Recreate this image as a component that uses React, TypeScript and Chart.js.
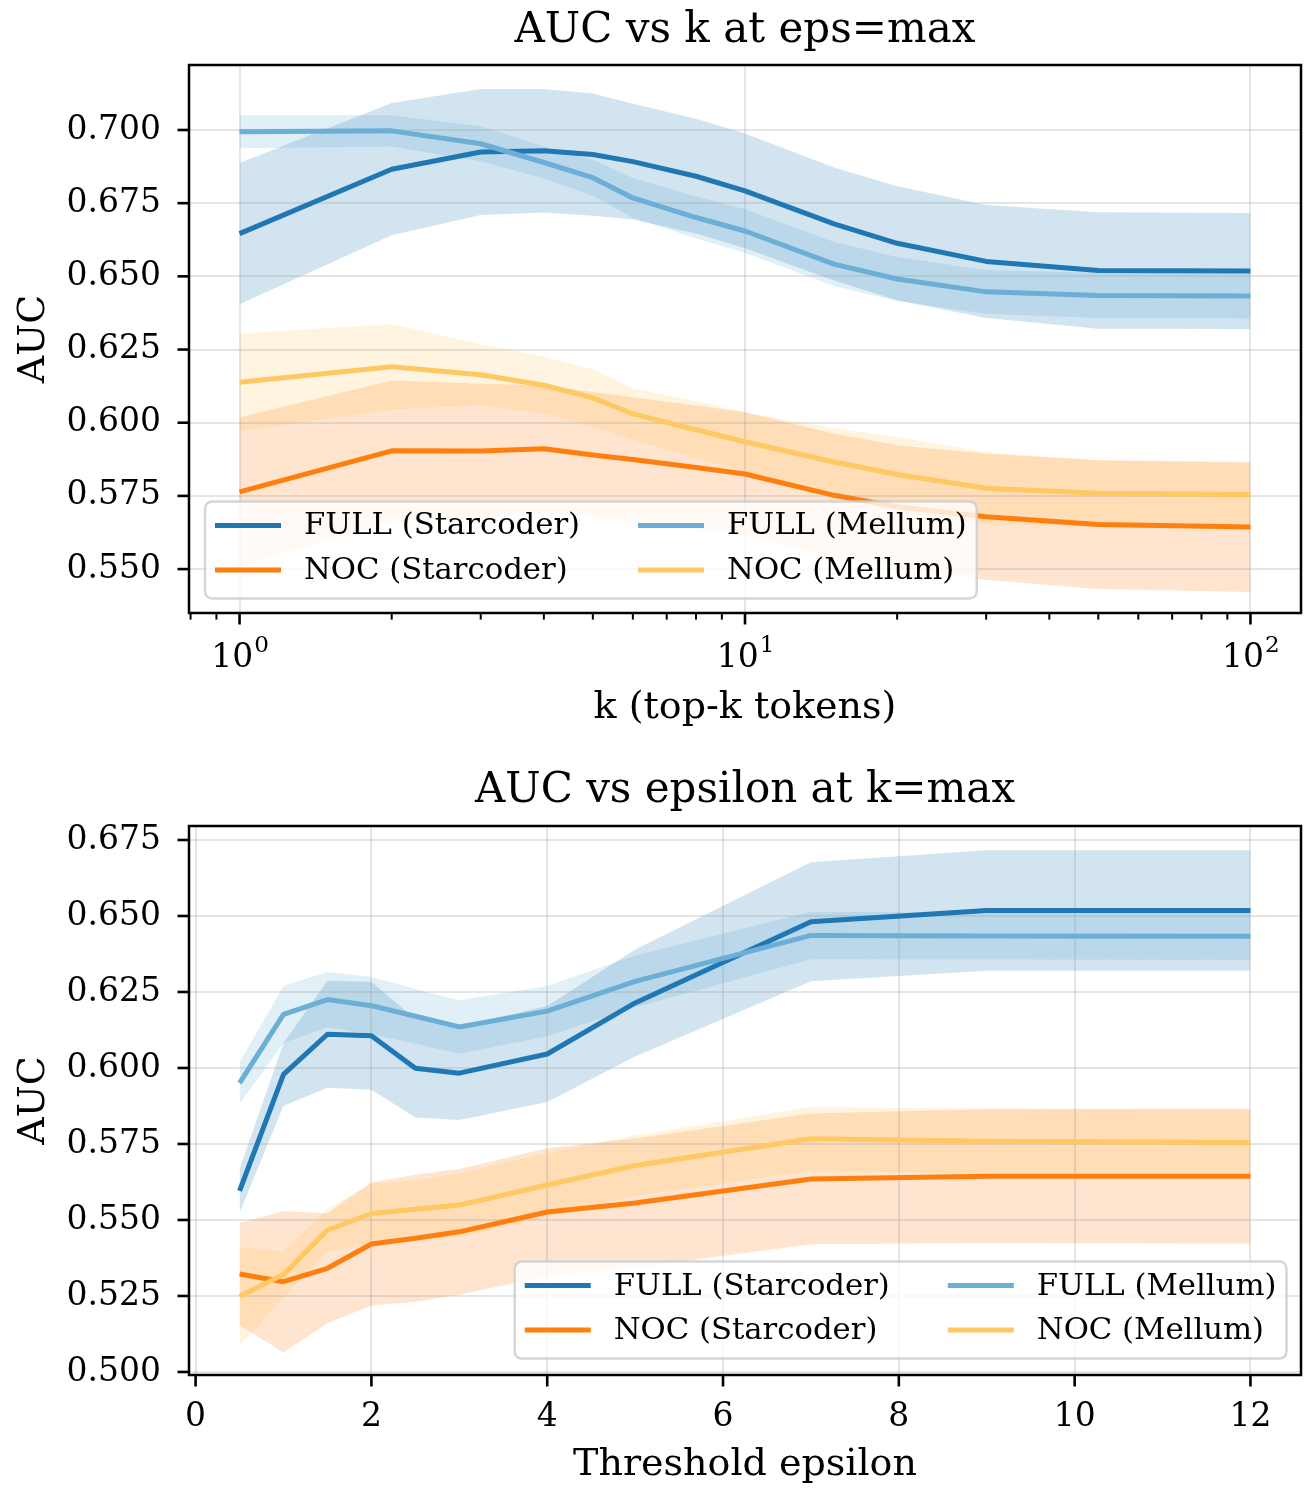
import React, { useEffect, useRef } from 'react';
import { Chart, registerables } from 'chart.js';

Chart.register(...registerables);

const SERIF = '"DejaVu Serif", "Liberation Serif", serif';
const WIDTH = 1307;
const HEIGHT = 744;

// ---- top panel: AUC vs k (eps = max) ----
const kValues = [1, 2, 3, 4, 5, 6, 8, 10, 15, 20, 30, 50, 100];
const fullStarcoderK = [0.6646, 0.6866, 0.6925, 0.6929, 0.6916, 0.6892, 0.6842, 0.6792, 0.6679, 0.6613, 0.6551, 0.652, 0.6518];
const fullStarcoderKStd = [0.0241, 0.0226, 0.0215, 0.0211, 0.0209, 0.0198, 0.0196, 0.0196, 0.0193, 0.0195, 0.0193, 0.0199, 0.0198];
const nocStarcoderK = [0.5764, 0.5904, 0.5903, 0.5911, 0.589, 0.5874, 0.5847, 0.5825, 0.5752, 0.5713, 0.5679, 0.5652, 0.5644];
const nocStarcoderKStd = [0.0254, 0.024, 0.023, 0.0217, 0.0215, 0.0213, 0.0212, 0.0211, 0.021, 0.021, 0.0215, 0.022, 0.0222];
const fullMellumK = [0.6994, 0.6997, 0.6953, 0.6889, 0.6837, 0.6768, 0.6701, 0.6655, 0.6542, 0.6491, 0.6447, 0.6435, 0.6433];
const fullMellumKStd = [0.0056, 0.0053, 0.006, 0.0055, 0.0062, 0.0068, 0.0072, 0.0074, 0.0075, 0.0075, 0.0075, 0.0077, 0.0077];
const nocMellumK = [0.6138, 0.6191, 0.6164, 0.6128, 0.6085, 0.603, 0.5976, 0.5935, 0.5866, 0.5823, 0.5776, 0.5759, 0.5755];
const nocMellumKStd = [0.0167, 0.0146, 0.0104, 0.0097, 0.0098, 0.0088, 0.0097, 0.0101, 0.0115, 0.0128, 0.0123, 0.0113, 0.0107];

// ---- bottom panel: AUC vs epsilon (k = max) ----
const epsValues = [0.5, 1, 1.5, 2, 2.5, 3, 4, 5, 7, 9, 12];
const fullStarcoderE = [0.5596, 0.5979, 0.6111, 0.6106, 0.5999, 0.5983, 0.6046, 0.6214, 0.6481, 0.6518, 0.6518];
const fullStarcoderEStd = [0.0072, 0.0103, 0.0176, 0.0178, 0.0162, 0.0154, 0.0158, 0.0176, 0.0196, 0.0198, 0.0198];
const nocStarcoderE = [0.5322, 0.5297, 0.5341, 0.5421, 0.544, 0.5461, 0.5526, 0.5556, 0.5635, 0.5644, 0.5644];
const nocStarcoderEStd = [0.0168, 0.0232, 0.0181, 0.0202, 0.0209, 0.0207, 0.021, 0.0212, 0.0215, 0.022, 0.0222];
const fullMellumE = [0.595, 0.6176, 0.6225, 0.6205, 0.617, 0.6135, 0.6187, 0.6285, 0.6436, 0.6434, 0.6433];
const fullMellumEStd = [0.0068, 0.0094, 0.0091, 0.0094, 0.009, 0.0088, 0.0083, 0.0085, 0.0078, 0.0077, 0.0077];
const nocMellumE = [0.5248, 0.5321, 0.5467, 0.5521, 0.5535, 0.5549, 0.5615, 0.5679, 0.5767, 0.5759, 0.5755];
const nocMellumEStd = [0.0163, 0.0075, 0.007, 0.0099, 0.0095, 0.0105, 0.0105, 0.01, 0.0105, 0.0107, 0.0107];

// ---- ticks ----
const kMajorTicks = [1, 10, 100];
const kExponents = ['0', '1', '2'];
const kMinorTicks = [0.8, 0.9, 2, 3, 4, 5, 6, 7, 8, 9, 20, 30, 40, 50, 60, 70, 80, 90];
const aucTicksTop = [0.55, 0.575, 0.6, 0.625, 0.65, 0.675, 0.7];
const aucTicksBottom = [0.5, 0.525, 0.55, 0.575, 0.6, 0.625, 0.65, 0.675];
const epsTicks = [0, 2, 4, 6, 8, 10, 12];

const seriesLabels = ['FULL (Starcoder)', 'NOC (Starcoder)', 'FULL (Mellum)', 'NOC (Mellum)'];
const seriesColors = ['#1f77b4', '#ff7f0e', '#6baed6', '#fec863'];

const TICK_FONT = 33;
const LABEL_FONT = 38;
const TITLE_FONT = 42;
const LEGEND_FONT = 30.7;
const LINE_W = 5;
const GRID = 'rgba(150,150,150,0.25)';

function withAlpha(hex: string, a: number) {
  const n = parseInt(hex.slice(1), 16);
  return `rgba(${(n >> 16) & 255},${(n >> 8) & 255},${n & 255},${a})`;
}

type Series = { label: string; color: string; mean: number[]; std: number[] };

function buildDatasets(xs: number[], series: Series[]) {
  const out: any[] = [];
  // shaded mean ± std bands: upper edge filled down to the following lower edge
  series.forEach((s) => {
    out.push({
      label: s.label + ' upper',
      data: xs.map((x, i) => ({ x, y: s.mean[i] + s.std[i] })),
      borderColor: 'rgba(0,0,0,0)',
      borderWidth: 0,
      pointRadius: 0,
      fill: '+1',
      backgroundColor: withAlpha(s.color, 0.2),
      order: 10,
    });
    out.push({
      label: s.label + ' lower',
      data: xs.map((x, i) => ({ x, y: s.mean[i] - s.std[i] })),
      borderColor: 'rgba(0,0,0,0)',
      borderWidth: 0,
      pointRadius: 0,
      fill: false,
      order: 10,
    });
  });
  // mean lines, later series drawn on top
  series.forEach((s, idx) => {
    out.push({
      label: s.label,
      data: xs.map((x, i) => ({ x, y: s.mean[i] })),
      borderColor: s.color,
      borderWidth: LINE_W,
      pointRadius: 0,
      fill: false,
      tension: 0,
      borderJoinStyle: 'round',
      borderCapStyle: 'butt',
      order: series.length - idx,
    });
  });
  return out;
}

// title centred over the plot area
const panelTitle = {
  id: 'panelTitle',
  afterDraw(chart: any, _args: any, opts: any) {
    const { ctx, chartArea: a } = chart;
    ctx.save();
    ctx.font = `${TITLE_FONT}px ${SERIF}`;
    ctx.fillStyle = '#000';
    ctx.textAlign = 'center';
    ctx.textBaseline = 'middle';
    ctx.fillText(opts.text, (a.left + a.right) / 2, opts.y);
    ctx.restore();
  },
};

// black frame around the plot, outward tick marks, power-of-ten labels
const frameTicks = {
  id: 'frameTicks',
  afterDatasetsDraw(chart: any, _args: any, opts: any) {
    const { ctx, chartArea: a } = chart;
    const xs = chart.scales.x;
    const ys = chart.scales.y;
    ctx.save();
    ctx.strokeStyle = '#000';
    const seg = (x1: number, y1: number, x2: number, y2: number, w: number) => {
      ctx.lineWidth = w;
      ctx.beginPath();
      ctx.moveTo(x1, y1);
      ctx.lineTo(x2, y2);
      ctx.stroke();
    };
    (opts.xMajor as number[]).forEach((v) => {
      const p = xs.getPixelForValue(v);
      seg(p, a.bottom, p, a.bottom + 11.5, 2.6);
    });
    ((opts.xMinor || []) as number[]).forEach((v) => {
      const p = xs.getPixelForValue(v);
      seg(p, a.bottom, p, a.bottom + 6.6, 2.0);
    });
    (opts.yMajor as number[]).forEach((v) => {
      const p = ys.getPixelForValue(v);
      seg(a.left - 11.5, p, a.left, p, 2.6);
    });
    ctx.lineWidth = 2.5;
    ctx.strokeRect(a.left, a.top, a.right - a.left, a.bottom - a.top);

    if (opts.powerLabels) {
      ctx.fillStyle = '#000';
      ctx.textBaseline = 'alphabetic';
      ctx.textAlign = 'left';
      const base = a.bottom + 54;
      (opts.xMajor as number[]).forEach((v, i) => {
        const p = xs.getPixelForValue(v);
        ctx.font = `${TICK_FONT}px ${SERIF}`;
        const w1 = ctx.measureText('10').width;
        ctx.font = `${TICK_FONT * 0.7}px ${SERIF}`;
        const w2 = ctx.measureText(kExponents[i]).width;
        const x0 = p - (w1 + w2) / 2;
        ctx.font = `${TICK_FONT}px ${SERIF}`;
        ctx.fillText('10', x0, base);
        ctx.font = `${TICK_FONT * 0.7}px ${SERIF}`;
        ctx.fillText(kExponents[i], x0 + w1 + 1, base - 15);
      });
    }
    ctx.restore();
  },
};

// two-column legend box inside the plot
const legendBox = {
  id: 'legendBox',
  afterDraw(chart: any, _args: any, opts: any) {
    const { ctx, chartArea: a } = chart;
    const cols: number[][] = [[0, 1], [2, 3]];
    ctx.save();
    ctx.font = `${LEGEND_FONT}px ${SERIF}`;
    const colW = cols.map((c) => Math.max(...c.map((i) => ctx.measureText(seriesLabels[i]).width)));
    const pad = 10;
    const handle = 66;
    const handleGap = 23;
    const colGap = 58;
    const boxH = 97;
    const boxW = pad * 2 + cols.length * (handle + handleGap) + colW[0] + colW[1] + colGap;
    const left = opts.side === 'left' ? a.left + opts.dx : a.right - opts.dx - boxW;
    const top = a.bottom - opts.dy - boxH;
    ctx.beginPath();
    ctx.roundRect(left, top, boxW, boxH, 7);
    ctx.fillStyle = 'rgba(255,255,255,0.8)';
    ctx.fill();
    ctx.lineWidth = 2.5;
    ctx.strokeStyle = 'rgba(204,204,204,0.8)';
    ctx.stroke();
    const rowY = [top + 24, top + 68.5];
    let x = left + pad;
    cols.forEach((c, ci) => {
      c.forEach((si, ri) => {
        ctx.strokeStyle = seriesColors[si];
        ctx.lineWidth = LINE_W;
        ctx.beginPath();
        ctx.moveTo(x, rowY[ri]);
        ctx.lineTo(x + handle, rowY[ri]);
        ctx.stroke();
        ctx.fillStyle = '#000';
        ctx.textAlign = 'left';
        ctx.textBaseline = 'middle';
        ctx.fillText(seriesLabels[si], x + handle + handleGap, rowY[ri] + 1);
      });
      x += handle + handleGap + colW[ci] + colGap;
    });
    ctx.restore();
  },
};

function fixedTicks(values: number[]) {
  return (scale: any) => {
    scale.ticks = values.map((v) => ({ value: v }));
  };
}

function yAxis(min: number, max: number, ticks: number[]) {
  return {
    type: 'linear',
    min,
    max,
    bounds: 'data',
    afterBuildTicks: fixedTicks(ticks),
    afterFit: (s: any) => { s.width = 189; },
    border: { display: false },
    grid: { drawTicks: false, lineWidth: 2, color: GRID },
    ticks: {
      autoSkip: false,
      padding: 28,
      color: '#000',
      font: { family: SERIF, size: TICK_FONT },
      callback: (v: any) => Number(v).toFixed(3),
    },
    title: {
      display: true,
      text: 'AUC',
      color: '#000',
      font: { family: SERIF, size: LABEL_FONT },
      padding: { top: 11, bottom: 0 },
    },
  };
}

function makeTopConfig(): any {
  const series: Series[] = [
    { label: seriesLabels[0], color: seriesColors[0], mean: fullStarcoderK, std: fullStarcoderKStd },
    { label: seriesLabels[1], color: seriesColors[1], mean: nocStarcoderK, std: nocStarcoderKStd },
    { label: seriesLabels[2], color: seriesColors[2], mean: fullMellumK, std: fullMellumKStd },
    { label: seriesLabels[3], color: seriesColors[3], mean: nocMellumK, std: nocMellumKStd },
  ];
  const allK = [...kMinorTicks, ...kMajorTicks].sort((p, q) => p - q);
  return {
    type: 'line',
    data: { datasets: buildDatasets(kValues, series) },
    plugins: [frameTicks, legendBox, panelTitle],
    options: {
      animation: false,
      responsive: false,
      maintainAspectRatio: false,
      layout: { padding: { left: 0, right: 6, top: 65, bottom: 0 } },
      plugins: {
        legend: { display: false },
        tooltip: { enabled: false },
        title: { display: false },
        filler: { drawTime: 'beforeDraw' },
        panelTitle: { text: 'AUC vs k at eps=max', y: 31 },
        frameTicks: { xMajor: kMajorTicks, xMinor: kMinorTicks, yMajor: aucTicksTop, powerLabels: true },
        legendBox: { side: 'left', dx: 16, dy: 14.5 },
      },
      scales: {
        x: {
          type: 'logarithmic',
          min: Math.pow(10, -0.1),
          max: Math.pow(10, 2.1),
          bounds: 'data',
          afterBuildTicks: fixedTicks(allK),
          afterFit: (s: any) => { s.height = HEIGHT - 613; },
          border: { display: false },
          grid: {
            drawTicks: false,
            lineWidth: 2,
            color: (c: any) => (c.tick && kMajorTicks.includes(c.tick.value) ? GRID : 'rgba(0,0,0,0)'),
          },
          ticks: {
            autoSkip: false,
            maxRotation: 0,
            padding: 22,
            color: '#000',
            font: { family: SERIF, size: TICK_FONT },
            callback: () => '',
          },
          title: {
            display: true,
            text: 'k (top-k tokens)',
            color: '#000',
            font: { family: SERIF, size: LABEL_FONT },
            padding: { top: 0, bottom: 13 },
          },
        },
        y: yAxis(0.535, 0.7222, aucTicksTop),
      },
    },
  };
}

function makeBottomConfig(): any {
  const series: Series[] = [
    { label: seriesLabels[0], color: seriesColors[0], mean: fullStarcoderE, std: fullStarcoderEStd },
    { label: seriesLabels[1], color: seriesColors[1], mean: nocStarcoderE, std: nocStarcoderEStd },
    { label: seriesLabels[2], color: seriesColors[2], mean: fullMellumE, std: fullMellumEStd },
    { label: seriesLabels[3], color: seriesColors[3], mean: nocMellumE, std: nocMellumEStd },
  ];
  return {
    type: 'line',
    data: { datasets: buildDatasets(epsValues, series) },
    plugins: [frameTicks, legendBox, panelTitle],
    options: {
      animation: false,
      responsive: false,
      maintainAspectRatio: false,
      layout: { padding: { left: 0, right: 6, top: 82, bottom: 0 } },
      plugins: {
        legend: { display: false },
        tooltip: { enabled: false },
        title: { display: false },
        filler: { drawTime: 'beforeDraw' },
        panelTitle: { text: 'AUC vs epsilon at k=max', y: 47 },
        frameTicks: { xMajor: epsTicks, xMinor: [], yMajor: aucTicksBottom, powerLabels: false },
        legendBox: { side: 'right', dx: 14.5, dy: 16.4 },
      },
      scales: {
        x: {
          type: 'linear',
          min: -0.075,
          max: 12.575,
          bounds: 'data',
          afterBuildTicks: fixedTicks(epsTicks),
          afterFit: (s: any) => { s.height = HEIGHT - 631; },
          border: { display: false },
          grid: { drawTicks: false, lineWidth: 2, color: GRID },
          ticks: {
            autoSkip: false,
            maxRotation: 0,
            padding: 23,
            color: '#000',
            font: { family: SERIF, size: TICK_FONT },
            callback: (v: any) => String(v),
          },
          title: {
            display: true,
            text: 'Threshold epsilon',
            color: '#000',
            font: { family: SERIF, size: LABEL_FONT },
            padding: { top: 0, bottom: 0 },
          },
        },
        y: yAxis(0.499, 0.6796, aucTicksBottom),
      },
    },
  };
}

function Panel({ top, makeConfig }: { top: number; makeConfig: () => any }) {
  const ref = useRef<HTMLCanvasElement>(null);
  useEffect(() => {
    const chart = new Chart(ref.current as HTMLCanvasElement, makeConfig());
    return () => chart.destroy();
  }, [makeConfig]);
  return (
    <div style={{ position: 'absolute', left: 0, top, width: WIDTH, height: HEIGHT }}>
      <canvas ref={ref} width={WIDTH} height={HEIGHT} style={{ display: 'block', width: WIDTH, height: HEIGHT }} />
    </div>
  );
}

export default function App() {
  return (
    <div style={{ position: 'absolute', left: 0, top: 0, width: WIDTH, height: HEIGHT * 2, background: '#fff' }}>
      <Panel top={0} makeConfig={makeTopConfig} />
      <Panel top={HEIGHT} makeConfig={makeBottomConfig} />
    </div>
  );
}
